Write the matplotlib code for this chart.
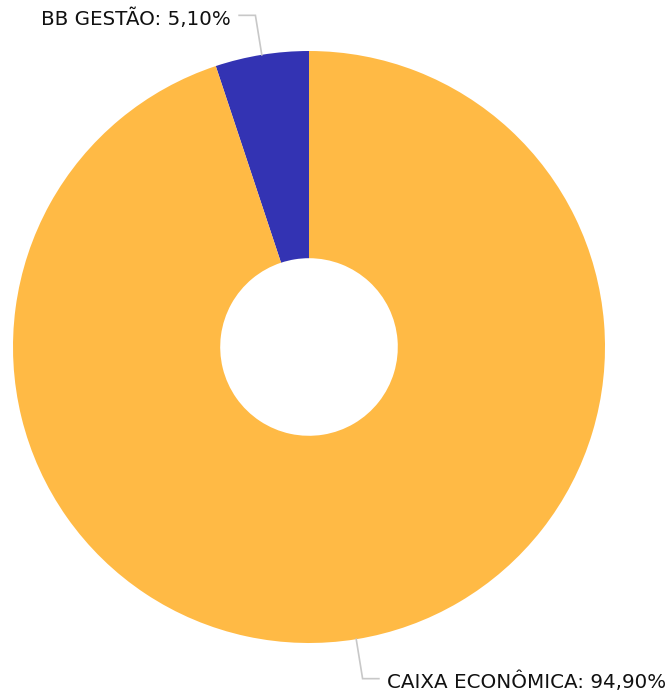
import matplotlib
matplotlib.use("Agg")
import matplotlib.pyplot as plt
import numpy as np

labels = ["BB GESTÃO", "CAIXA ECONÔMICA"]
values = [5.10, 94.90]
colors = ["#3333B3", "#FFBA45"]

W, H = 670, 699
cx, cy, R = 309, 347, 296

fig = plt.figure(figsize=(W / 100, H / 100), dpi=100)
ax = fig.add_axes([(cx - R) / W, (H - cy - R) / H, 2 * R / W, 2 * R / H])

wedges, _ = ax.pie(values, colors=colors, startangle=90, counterclock=True,
                   radius=1, wedgeprops=dict(width=0.70, linewidth=0))
ax.set_xlim(-1, 1)
ax.set_ylim(-1, 1)
ax.axis("off")

for w, lab, v in zip(wedges, labels, values):
    mid = np.deg2rad((w.theta1 + w.theta2) / 2)
    x0, y0 = np.cos(mid), np.sin(mid)
    x1, y1 = 1.135 * x0, 1.135 * y0
    side = np.sign(x0)
    x2 = x1 + side * 0.055
    ax.plot([x0, x1, x2], [y0, y1, y1], color="#c8c8c8", lw=1.2,
            clip_on=False, solid_joinstyle="miter")
    txt = f"{lab}: {v:.2f}%".replace(".", ",")
    ax.text(x2 + side * 0.027, y1 - 0.01, txt, ha="left" if side > 0 else "right",
            va="center", fontsize=14.3, color="#111111", clip_on=False,
            family="DejaVu Sans")

fig.savefig("out.png", dpi=100)
